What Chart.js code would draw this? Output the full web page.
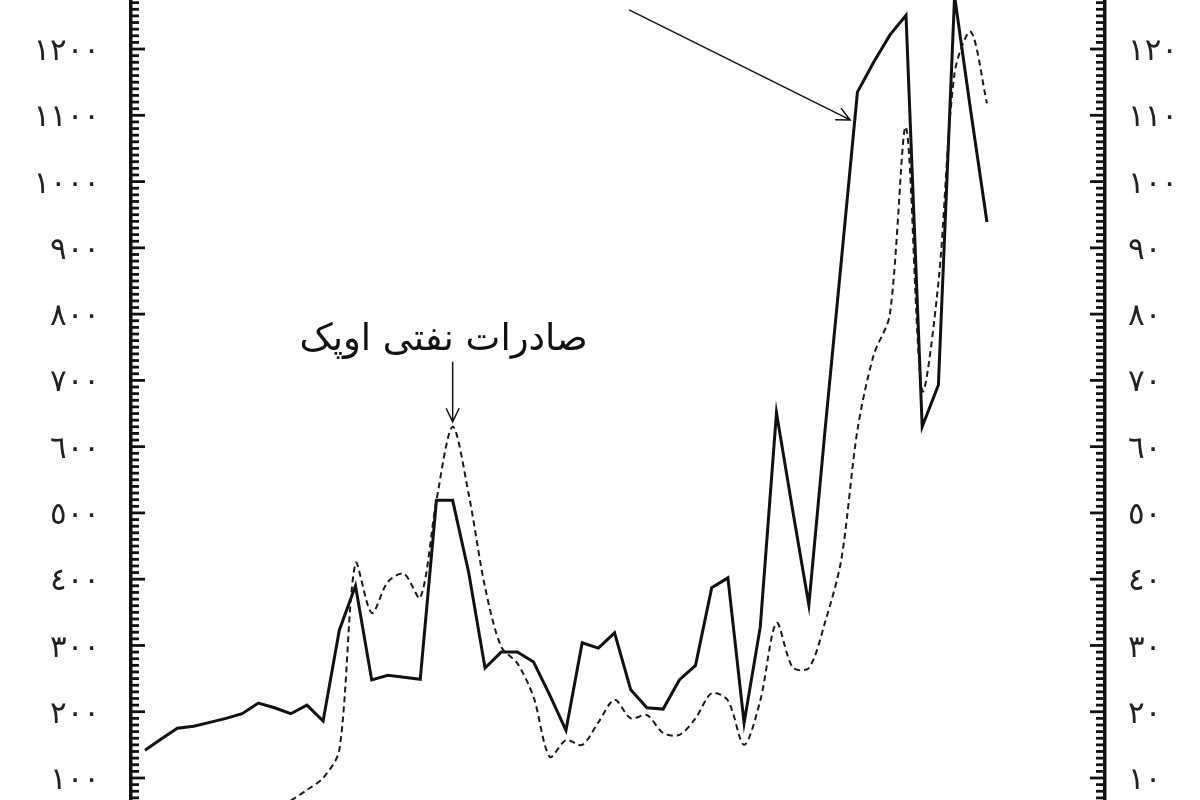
<!DOCTYPE html>
<html lang="fa">
<head>
<meta charset="utf-8">
<title>صادرات نفتی اوپک</title>
<script src="https://cdn.jsdelivr.net/npm/chart.js@4.4.0/dist/chart.umd.min.js"></script>
<style>
  html, body { margin: 0; padding: 0; background: #fff; }
  canvas { display: block; }
</style>
</head>
<body>
<canvas id="oilChart" width="1200" height="800"></canvas>
<script>
// Years (the horizontal axis itself is cropped out of the picture)
const years = [1961, 1962, 1963, 1964, 1965, 1966, 1967, 1968, 1969, 1970,
               1971, 1972, 1973, 1974, 1975, 1976, 1977, 1978, 1979, 1980,
               1981, 1982, 1983, 1984, 1985, 1986, 1987, 1988, 1989, 1990,
               1991, 1992, 1993, 1994, 1995, 1996, 1997, 1998, 1999, 2000,
               2001, 2002, 2003, 2004, 2005, 2006, 2007, 2008, 2009, 2010,
               2011, 2012, 2013];

// OPEC oil export revenue (dashed, left axis)
const opecExports = [25, 27, 29, 31, 34, 37, 40, 44, 52, 66,
                     82, 100, 142, 424, 349, 396, 408, 372, 519, 630,
                     527, 388, 298, 273, 222, 132, 157, 150, 184, 218,
                     190, 195, 168, 165, 190, 228, 217, 150, 217, 334,
                     267, 266, 335, 429, 625, 738, 799, 1082, 685, 847,
                     1164, 1226, 1118];

// Oil price (solid, right axis)
const oilPrice = [14.2, 15.9, 17.5, 17.8, 18.4, 19.0, 19.7, 21.3, 20.6, 19.7,
                  21.0, 18.6, 32.3, 39.0, 24.8, 25.5, 25.2, 24.9, 51.9, 51.9,
                  40.9, 26.6, 29.0, 29.0, 27.5, 22.5, 17.2, 30.4, 29.6, 31.9,
                  23.3, 20.6, 20.4, 24.8, 27.0, 38.7, 40.2, 18.3, 32.8, 65.1,
                  50.4, 36.1, 62.5, 87.9, 113.5, 118.0, 122.1, 125.1, 63.0, 69.3,
                  128.0, 110.6, 93.9];

// Tick labels
const leftTicks = [100, 200, 300, 400, 500, 600, 700, 800, 900, 1000, 1100, 1200];
const rightTicks = [10, 20, 30, 40, 50, 60, 70, 80, 90, 100, 110, 120];

const exportsLabel = 'صادرات نفتی اوپک';

const arabicDigits = '٠١٢٣٤٥٦٧٨٩';
function toArabic(n) {
    return String(n).replace(/\d/g, d => arabicDigits[d]);
}

function arrow(ctx, x1, y1, x2, y2) {
    const a = Math.atan2(y2 - y1, x2 - x1);
    const len = 15, spread = 0.45;
    ctx.beginPath();
    ctx.moveTo(x1, y1);
    ctx.lineTo(x2, y2);
    ctx.moveTo(x2 - len * Math.cos(a - spread), y2 - len * Math.sin(a - spread));
    ctx.lineTo(x2, y2);
    ctx.lineTo(x2 - len * Math.cos(a + spread), y2 - len * Math.sin(a + spread));
    ctx.stroke();
}

// Small inward tick marks on both vertical axes
const axisTicks = {
    id: 'axisTicks',
    afterDraw(chart) {
        const ctx = chart.ctx;
        const yl = chart.scales.y, yr = chart.scales.y1;
        const left = chart.chartArea.left, right = chart.chartArea.right;
        ctx.save();
        ctx.strokeStyle = '#111';
        ctx.lineWidth = 2.8;
        for (let v = 70; v <= 1270; v += 10) {
            const py = yl.getPixelForValue(v);
            ctx.beginPath();
            ctx.moveTo(left, py);
            ctx.lineTo(left + (v % 100 === 0 ? 14 : 8), py);
            ctx.stroke();
        }
        for (let v = 7; v <= 127; v += 1) {
            const py = yr.getPixelForValue(v);
            ctx.beginPath();
            ctx.moveTo(right, py);
            ctx.lineTo(right - (v % 10 === 0 ? 15 : 9), py);
            ctx.stroke();
        }
        ctx.restore();
    }
};

// Text and arrows drawn over the lines
const notes = {
    id: 'notes',
    afterDatasetsDraw(chart) {
        const {ctx, scales: {x, y, y1}} = chart;
        ctx.save();
        ctx.strokeStyle = '#111';
        ctx.fillStyle = '#111';
        ctx.lineWidth = 1.5;

        // arrow down to the 1980 peak of exports
        const px = x.getPixelForValue(1980);
        const py = y.getPixelForValue(opecExports[19]) - 5;
        ctx.font = '37px "DejaVu Sans"';
        ctx.textAlign = 'center';
        ctx.textBaseline = 'alphabetic';
        ctx.direction = 'rtl';
        ctx.fillText(exportsLabel, px - 9, py - 72);
        arrow(ctx, px, py - 60, px, py);

        // arrow coming from the upper left to the price line
        const tx = x.getPixelForValue(2004.55);
        const ty = y1.getPixelForValue(109.3);
        arrow(ctx, tx - 221, ty - 110, tx, ty);
        ctx.restore();
    }
};

const ctx = document.getElementById('oilChart').getContext('2d');
const oilChart = new Chart(ctx, {
    type: 'line',
    data: {
        datasets: [{
            label: exportsLabel,
            data: years.map((yr, i) => ({x: yr, y: opecExports[i]})),
            yAxisID: 'y',
            borderColor: '#1a1a1a',
            borderWidth: 2,
            borderDash: [6, 4],
            tension: 0.3,
            pointRadius: 0,
            fill: false
        }, {
            label: 'Oil price',
            data: years.map((yr, i) => ({x: yr, y: oilPrice[i]})),
            yAxisID: 'y1',
            borderColor: '#111',
            borderWidth: 3,
            borderJoinStyle: 'miter',
            tension: 0,
            pointRadius: 0,
            fill: false
        }]
    },
    options: {
        responsive: false,
        animation: false,
        layout: { padding: 0 },
        plugins: {
            legend: { display: false },
            tooltip: { enabled: false }
        },
        scales: {
            x: {
                type: 'linear',
                display: false,
                min: 1960.135,
                max: 2020.29
            },
            y: {
                position: 'left',
                min: 66.8,
                max: 1274,
                grid: { display: false, drawTicks: false },
                border: { display: true, color: '#111', width: 3.5 },
                afterBuildTicks: s => { s.ticks = leftTicks.map(v => ({value: v})); },
                afterFit: s => { s.width = 131; s.paddingTop = 0; s.paddingBottom = 0; },
                ticks: {
                    padding: 31,
                    labelOffset: 3,
                    color: '#222',
                    font: { family: '"DejaVu Sans"', size: 31 },
                    callback: v => toArabic(v)
                }
            },
            y1: {
                position: 'right',
                min: 6.68,
                max: 127.4,
                grid: { display: false, drawTicks: false },
                border: { display: true, color: '#111', width: 3.5 },
                afterBuildTicks: s => { s.ticks = rightTicks.map(v => ({value: v})); },
                afterFit: s => { s.width = 95; s.paddingTop = 0; s.paddingBottom = 0; },
                ticks: {
                    padding: 23,
                    labelOffset: 3,
                    color: '#222',
                    font: { family: '"DejaVu Sans"', size: 31 },
                    callback: v => toArabic(v)
                }
            }
        }
    },
    plugins: [axisTicks, notes]
});
</script>
</body>
</html>
